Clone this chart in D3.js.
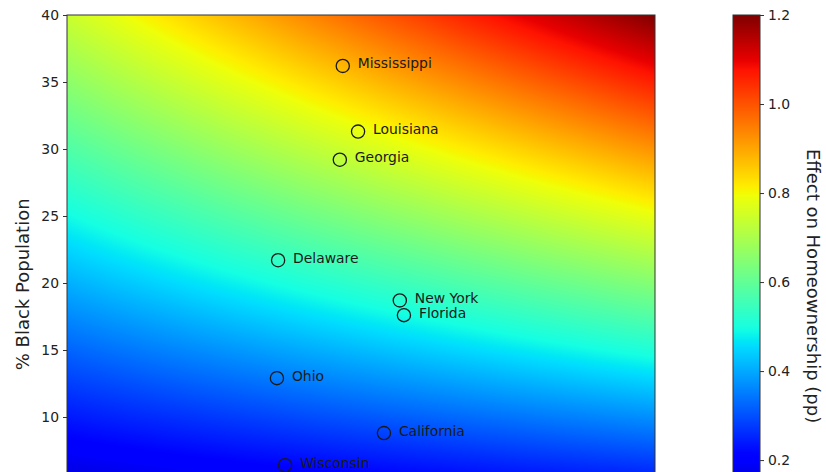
<!DOCTYPE html>
<html>
<head>
<meta charset="utf-8">
<script src="https://cdn.jsdelivr.net/npm/d3@7"></script>
<style>
  html, body { margin: 0; padding: 0; background: #fff; }
  svg { display: block; font-family: "DejaVu Sans", sans-serif; }
</style>
</head>
<body>
<svg id="chart" width="826" height="472"></svg>
<script>
// States placed on the surface: relative position along the horizontal
// covariate (0..1) and share of Black population (%)
const states  = ["Mississippi", "Louisiana", "Georgia", "Delaware", "New York",
                 "Florida", "Ohio", "California", "Wisconsin"];
const stateX  = [0.469, 0.495, 0.464, 0.359, 0.566, 0.573, 0.357, 0.539, 0.371];
const stateY  = [36.2, 31.3, 29.2, 21.7, 18.7, 17.6, 12.9, 8.8, 6.4];

// Fitted effect (pp) along the two edges of the covariate range:
// effect = intercept + slope * %Black
const edgeIntercept = [0.07, 0.096];   // at x = 0, x = 1
const edgeSlope     = [0.0168, 0.0276];
const xCurvature    = 0.95;

const yTicks = [10, 15, 20, 25, 30, 35, 40];
const cTicks = [0.2, 0.4, 0.6, 0.8, 1.0, 1.2];
const yDomain = [2.5, 40];
const cDomain = [0.071, 1.2];

function effect(x, y) {
  const lo = edgeIntercept[0] + edgeSlope[0] * y;
  const hi = edgeIntercept[1] + edgeSlope[1] * y;
  return lo + (hi - lo) * Math.pow(x, xCurvature);
}

// Jet colormap built from piecewise-linear channel scales
const jetR = d3.scaleLinear().domain([0, 0.35, 0.66, 0.89, 1]).range([0, 0, 1, 1, 0.5]).clamp(true);
const jetG = d3.scaleLinear().domain([0, 0.125, 0.375, 0.64, 0.91, 1]).range([0, 0, 1, 1, 0, 0]).clamp(true);
const jetB = d3.scaleLinear().domain([0, 0.11, 0.34, 0.65, 1]).range([0.5, 1, 1, 0, 0]).clamp(true);
const norm = d3.scaleLinear().domain(cDomain).range([0, 1]).clamp(true);
function jet(v) {
  const t = norm(v);
  return [Math.round(jetR(t) * 255), Math.round(jetG(t) * 255), Math.round(jetB(t) * 255)];
}

const svg = d3.select("#chart");
const plot = { left: 67, top: 15, width: 588, height: 502.5 };

const x = d3.scaleLinear().domain([0, 1]).range([plot.left, plot.left + plot.width]);
const y = d3.scaleLinear().domain(yDomain).range([plot.top + plot.height, plot.top]);

// Effect surface rendered to a canvas and placed as an image
const W = Math.round(plot.width), H = Math.round(plot.height);
const canvas = document.createElement("canvas");
canvas.width = W; canvas.height = H;
const ctx = canvas.getContext("2d");
const img = ctx.createImageData(W, H);
for (let j = 0; j < H; j++) {
  const yv = y.invert(plot.top + j + 0.5);
  for (let i = 0; i < W; i++) {
    const xv = x.invert(plot.left + i + 0.5);
    const c = jet(effect(xv, yv));
    const k = (j * W + i) * 4;
    img.data[k] = c[0]; img.data[k + 1] = c[1]; img.data[k + 2] = c[2]; img.data[k + 3] = 255;
  }
}
ctx.putImageData(img, 0, 0);
svg.append("image")
  .attr("x", plot.left).attr("y", plot.top)
  .attr("width", W).attr("height", H)
  .attr("preserveAspectRatio", "none")
  .attr("href", canvas.toDataURL());

// Frame
svg.append("rect")
  .attr("x", plot.left).attr("y", plot.top)
  .attr("width", plot.width).attr("height", plot.height)
  .attr("fill", "none").attr("stroke", "#333").attr("stroke-width", 1);

// Y axis
const yAxis = svg.append("g")
  .attr("transform", `translate(${plot.left},0)`)
  .call(d3.axisLeft(y).tickValues(yTicks).tickSize(4).tickPadding(4).tickFormat(d3.format("d")));
yAxis.select(".domain").remove();
yAxis.selectAll("text").attr("font-size", 13.9).attr("fill", "#222").attr("font-family", "DejaVu Sans");
yAxis.selectAll("line").attr("stroke", "#333");

svg.append("text")
  .attr("transform", `translate(22,${y(19.9)}) rotate(-90)`)
  .attr("text-anchor", "middle")
  .attr("dominant-baseline", "central")
  .attr("font-size", 18)
  .attr("fill", "#222")
  .text("% Black Population");

// State markers and labels
const pts = svg.append("g");
states.forEach((name, i) => {
  pts.append("circle")
    .attr("cx", x(stateX[i])).attr("cy", y(stateY[i]))
    .attr("r", 6.6)
    .attr("fill", "none").attr("stroke", "#1a1a1a").attr("stroke-width", 1.3);
  pts.append("text")
    .attr("x", x(stateX[i]) + 15).attr("y", y(stateY[i]) - 2.5)
    .attr("dominant-baseline", "central")
    .attr("font-size", 13.9).attr("fill", "#1a1a1a")
    .text(name);
});

// Colorbar
const cb = { left: 733, width: 27 };
const c = d3.scaleLinear().domain(cDomain).range([plot.top + plot.height, plot.top]);
const defs = svg.append("defs");
const grad = defs.append("linearGradient")
  .attr("id", "jetGrad").attr("x1", 0).attr("y1", 1).attr("x2", 0).attr("y2", 0);
d3.range(0, 1.0001, 0.01).forEach(t => {
  const v = cDomain[0] + t * (cDomain[1] - cDomain[0]);
  const col = jet(v);
  grad.append("stop").attr("offset", t).attr("stop-color", `rgb(${col[0]},${col[1]},${col[2]})`);
});
svg.append("rect")
  .attr("x", cb.left).attr("y", plot.top)
  .attr("width", cb.width).attr("height", plot.height)
  .attr("fill", "url(#jetGrad)")
  .attr("stroke", "#333").attr("stroke-width", 1);

const cAxis = svg.append("g")
  .attr("transform", `translate(${cb.left + cb.width},0)`)
  .call(d3.axisRight(c).tickValues(cTicks).tickSize(4).tickPadding(4).tickFormat(d3.format(".1f")));
cAxis.select(".domain").remove();
cAxis.selectAll("text").attr("font-size", 13.9).attr("fill", "#222").attr("font-family", "DejaVu Sans");
cAxis.selectAll("line").attr("stroke", "#333");

svg.append("text")
  .attr("transform", `translate(813,${c(0.591)}) rotate(90)`)
  .attr("text-anchor", "middle")
  .attr("dominant-baseline", "central")
  .attr("font-size", 18)
  .attr("fill", "#222")
  .text("Effect on Homeownership (pp)");
</script>
</body>
</html>
